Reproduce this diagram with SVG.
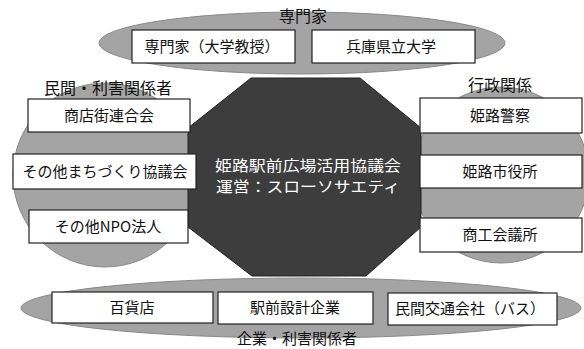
<svg xmlns="http://www.w3.org/2000/svg" width="584" height="349" viewBox="0 0 584 349">
<style>
.grp{fill:#a4a4a4;stroke:#8a8a8a;stroke-width:1}
.box{fill:#fff;stroke:#222;stroke-width:1.2}
.t{font-family:"Noto Sans CJK JP","Noto Sans",sans-serif;font-size:15px;fill:#111;text-anchor:middle}
.lbl{font-family:"Noto Sans CJK JP","Noto Sans",sans-serif;font-size:16px;fill:#111;text-anchor:middle}
.c{font-family:"Noto Sans CJK JP","Noto Sans",sans-serif;font-size:15px;fill:#fff;text-anchor:middle}
</style>
<rect width="584" height="349" fill="#fff"/>
<g id="group-experts">
<ellipse class="grp" cx="302" cy="43" rx="203" ry="31"/>
<text class="lbl" x="303" y="22">専門家</text>
</g>
<g id="group-private">
<circle class="grp" cx="105" cy="175" r="92"/>
<text class="lbl" x="108" y="94">民間・利害関係者</text>
</g>
<g id="group-admin">
<circle class="grp" cx="501" cy="175" r="88"/>
<text class="lbl" x="500" y="91">行政関係</text>
</g>
<g id="group-companies">
<ellipse class="grp" cx="301" cy="308" rx="280" ry="30"/>
<text class="lbl" x="297" y="344" style="font-size:15px">企業・利害関係者</text>
</g>
<g id="center">
<polygon points="251,78 360,78 421,128 421,227 366,276 252,276 188,227 188,128" fill="#3d3d3d" stroke="#222" stroke-width="1"/>
<text class="c" x="308" y="171" textLength="186" lengthAdjust="spacingAndGlyphs">姫路駅前広場活用協議会</text>
<text class="c" x="308" y="192" textLength="184" lengthAdjust="spacingAndGlyphs">運営：スローソサエティ</text>
</g>
<g id="connectors"></g>
<g id="n-prof"><rect class="box" x="132" y="30" width="163" height="33"/><text class="t" x="212" y="52">専門家（大学教授）</text></g>
<g id="n-univ"><rect class="box" x="312" y="30" width="163" height="33"/><text class="t" x="391" y="52">兵庫県立大学</text></g>
<g id="n-shotengai"><rect class="box" x="28" y="99" width="162" height="33"/><text class="t" x="109" y="121">商店街連合会</text></g>
<g id="n-machizukuri"><rect class="box" x="13" y="154" width="183" height="35"/><text class="t" x="105" y="177">その他まちづくり協議会</text></g>
<g id="n-npo"><rect class="box" x="29" y="210" width="159" height="33"/><text class="t" x="108" y="232">その他NPO法人</text></g>
<g id="n-police"><rect class="box" x="420" y="98" width="162" height="35"/><text class="t" x="500" y="121">姫路警察</text></g>
<g id="n-cityhall"><rect class="box" x="420" y="155" width="162" height="33"/><text class="t" x="500" y="177">姫路市役所</text></g>
<g id="n-chamber"><rect class="box" x="420" y="218" width="162" height="34"/><text class="t" x="500" y="240">商工会議所</text></g>
<g id="n-dept"><rect class="box" x="52" y="292" width="161" height="31"/><text class="t" x="132" y="313">百貨店</text></g>
<g id="n-design"><rect class="box" x="218" y="292" width="155" height="32"/><text class="t" x="295" y="313">駅前設計企業</text></g>
<g id="n-bus"><rect class="box" x="388" y="293" width="169" height="32"/><text class="t" x="470" y="314">民間交通会社（バス）</text></g>
</svg>
